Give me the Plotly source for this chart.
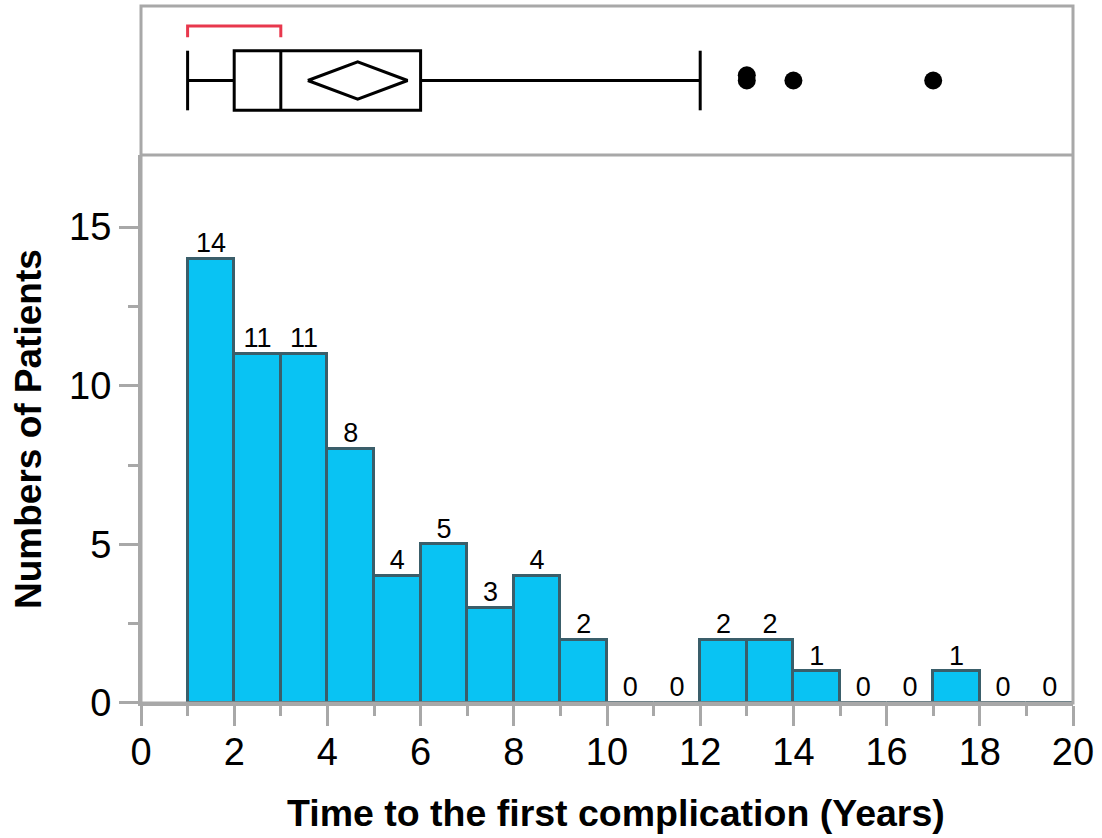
import plotly.graph_objects as go

# Histogram of time to first complication (1-year bins)
bin_left = [1, 2, 3, 4, 5, 6, 7, 8, 9, 10, 11, 12, 13, 14, 15, 16, 17, 18, 19]
counts = [14, 11, 11, 8, 4, 5, 3, 4, 2, 0, 0, 2, 2, 1, 0, 0, 1, 0, 0]
bin_width = 1

# Outlier box plot summary
whisker_low = 1
q1 = 2
median = 3
q3 = 6
whisker_high = 12
mean_value = 4.65
mean_ci_half = 1.07
outliers = [13, 13, 14, 17]
shortest_half = [1, 3]

x_ticks = [0, 2, 4, 6, 8, 10, 12, 14, 16, 18, 20]
y_ticks = [0, 5, 10, 15]

FONT = "Liberation Sans, Arial, Helvetica, sans-serif"
GRAY = "#A8A8A8"
BAR_FILL = "#09C3F3"
BAR_EDGE = "#3A5E6A"
RED = "#E8384D"

split = 0.7862  # boundary between histogram (below) and box plot (above)

centers = [b + bin_width / 2 for b in bin_left]

fig = go.Figure()

fig.add_trace(go.Bar(
    x=centers, y=counts, width=bin_width,
    marker=dict(color=BAR_FILL, line=dict(color=BAR_EDGE, width=3)),
    xaxis="x", yaxis="y", hoverinfo="x+y", showlegend=False,
))

fig.add_trace(go.Scatter(
    x=centers, y=counts, mode="text", text=[str(c) for c in counts],
    textposition="top center",
    textfont=dict(family=FONT, size=27, color="black"),
    xaxis="x", yaxis="y", showlegend=False, hoverinfo="skip",
))

# Box plot panel
box_mid = 0.5
box_half = 0.2
diamond_half = 0.125

shapes = []
line_black = dict(color="black", width=3)
# box
shapes.append(dict(type="rect", xref="x2", yref="y2", x0=q1, x1=q3,
                   y0=box_mid - box_half, y1=box_mid + box_half, line=line_black))
# median
shapes.append(dict(type="line", xref="x2", yref="y2", x0=median, x1=median,
                   y0=box_mid - box_half, y1=box_mid + box_half, line=line_black))
# whiskers
shapes.append(dict(type="line", xref="x2", yref="y2", x0=whisker_low, x1=q1,
                   y0=box_mid, y1=box_mid, line=line_black))
shapes.append(dict(type="line", xref="x2", yref="y2", x0=q3, x1=whisker_high,
                   y0=box_mid, y1=box_mid, line=line_black))
for w in (whisker_low, whisker_high):
    shapes.append(dict(type="line", xref="x2", yref="y2", x0=w, x1=w,
                       y0=box_mid - box_half, y1=box_mid + box_half, line=line_black))
# shortest half bracket
bracket_top = 0.866
bracket_bot = 0.79
shapes.append(dict(type="path", xref="x2", yref="y2",
                   path=f"M {shortest_half[0]} {bracket_bot} L {shortest_half[0]} {bracket_top} "
                        f"L {shortest_half[1]} {bracket_top} L {shortest_half[1]} {bracket_bot}",
                   line=dict(color=RED, width=3)))

# mean confidence diamond
dx = [mean_value - mean_ci_half, mean_value, mean_value + mean_ci_half, mean_value,
      mean_value - mean_ci_half]
dy = [box_mid, box_mid + diamond_half, box_mid, box_mid - diamond_half, box_mid]
fig.add_trace(go.Scatter(x=dx, y=dy, mode="lines", line=dict(color="black", width=3),
                         xaxis="x2", yaxis="y2", showlegend=False, hoverinfo="skip"))

# outliers, repeated values nudged upward so they stay visible
oy = []
seen = {}
for v in outliers:
    k = seen.get(v, 0)
    oy.append(box_mid + 0.035 * k)
    seen[v] = k + 1
fig.add_trace(go.Scatter(x=outliers, y=oy, mode="markers",
                         marker=dict(color="black", size=18),
                         xaxis="x2", yaxis="y2", showlegend=False))

# panel frames
shapes.append(dict(type="rect", xref="paper", yref="paper", x0=0, x1=1, y0=0, y1=1,
                   line=dict(color=GRAY, width=3), layer="above"))
shapes.append(dict(type="line", xref="paper", yref="paper", x0=0, x1=1, y0=split, y1=split,
                   line=dict(color=GRAY, width=3), layer="above"))

fig.update_layout(
    width=1102, height=838,
    margin=dict(l=141, r=29, t=6, b=135),
    paper_bgcolor="white", plot_bgcolor="white",
    bargap=0,
    shapes=shapes,
    xaxis=dict(domain=[0, 1], range=[0, 20], anchor="y",
               tickmode="array", tickvals=x_ticks,
               ticks="outside", ticklen=20, tickwidth=3, tickcolor=GRAY,
               minor=dict(dtick=1, tick0=0, ticks="outside", ticklen=10, tickwidth=3, tickcolor=GRAY),
               showline=True, linecolor=GRAY, linewidth=3,
               showgrid=False, zeroline=False, ticklabelstandoff=-7,
               tickfont=dict(family=FONT, size=38, color="black")),
    yaxis=dict(domain=[0, split], range=[0, 17.27], anchor="x",
               tickmode="array", tickvals=y_ticks,
               ticks="outside", ticklen=19, tickwidth=3, tickcolor=GRAY,
               minor=dict(dtick=2.5, tick0=0, ticks="outside", ticklen=10, tickwidth=3, tickcolor=GRAY),
               showline=True, linecolor=GRAY, linewidth=3,
               showgrid=False, zeroline=False,
               tickfont=dict(family=FONT, size=38, color="black")),
    xaxis2=dict(domain=[0, 1], range=[0, 20], anchor="y2", visible=False),
    yaxis2=dict(domain=[split, 1], range=[0, 1], anchor="x2", visible=False),
    annotations=[
        dict(text="<b>Time to the first complication (Years)</b>", xref="paper", yref="paper",
             x=(616 - 141) / 932, y=0, yshift=-110, xanchor="center", yanchor="middle",
             showarrow=False, font=dict(family=FONT, size=37.5, color="black")),
        dict(text="<b>Numbers of Patients</b>", xref="paper", yref="paper",
             x=0, y=0.3931, xshift=-113, xanchor="center", yanchor="middle", textangle=-90,
             showarrow=False, font=dict(family=FONT, size=37, color="black")),
    ],
)

fig.write_html("out.html")
